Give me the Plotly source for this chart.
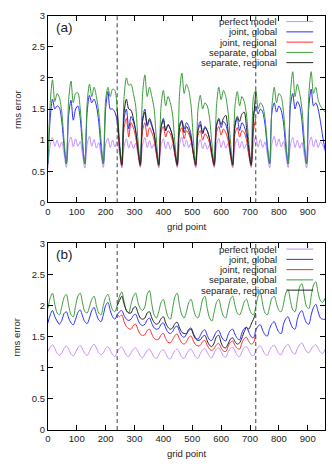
import plotly.graph_objects as go

grid = list(range(0, 961, 8))
grid_reg = list(range(240, 721, 8))
boundaries = [240, 720]

names = ["perfect model", "joint, global", "joint, regional",
         "separate, global", "separate, regional"]
colors = ["#c48cff", "#2b2bff", "#ff2b2b", "#3c9c3c", "#222222"]

# ---- panel (a)
a_perfect = [
    0.55, 0.92, 1.04, 0.90, 1.00, 0.88, 0.97, 0.78,
    0.56, 0.95, 1.05, 0.89, 1.02, 0.90, 0.98, 0.76,
    0.55, 0.93, 1.06, 0.90, 1.01, 0.87, 0.96, 0.77,
    0.56, 0.94, 1.03, 0.88, 1.00, 0.89, 0.98, 0.78,
    0.55, 0.90, 1.02, 0.87, 0.98, 0.86, 0.95, 0.76,
    0.56, 0.92, 1.04, 0.88, 0.99, 0.87, 0.94, 0.75,
    0.55, 0.91, 1.02, 0.86, 0.97, 0.85, 0.93, 0.75,
    0.56, 0.93, 1.05, 0.89, 1.00, 0.88, 0.96, 0.77,
    0.55, 0.90, 1.01, 0.86, 0.96, 0.85, 0.93, 0.74,
    0.56, 0.92, 1.03, 0.88, 0.99, 0.87, 0.95, 0.76,
    0.55, 0.91, 1.02, 0.87, 0.98, 0.86, 0.94, 0.75,
    0.56, 0.93, 1.05, 0.89, 1.01, 0.88, 0.97, 0.77,
    0.55, 0.94, 1.06, 0.90, 1.02, 0.89, 0.98, 0.78,
    0.56, 0.92, 1.04, 0.88, 1.00, 0.87, 0.96, 0.76,
    0.55, 0.93, 1.05, 0.89, 1.01, 0.88, 0.97, 0.92,
    0.82]
a_joint_g = [
    0.62, 1.35, 1.66, 1.50, 1.55, 1.52, 1.30, 0.90,
    0.62, 1.40, 1.64, 1.32, 1.50, 1.55, 1.35, 0.90,
    0.62, 1.45, 1.72, 1.60, 1.66, 1.55, 1.30, 0.88,
    0.62, 1.50, 1.78, 1.50, 1.50, 1.45, 1.30, 0.90,
    0.62, 1.35, 1.50, 1.18, 1.38, 1.30, 1.15, 0.85,
    0.62, 1.35, 1.50, 1.22, 1.32, 1.22, 1.10, 0.82,
    0.62, 1.22, 1.35, 1.15, 1.25, 1.18, 1.05, 0.80,
    0.62, 1.25, 1.32, 1.18, 1.28, 1.22, 1.08, 0.80,
    0.62, 1.20, 1.30, 1.12, 1.22, 1.15, 1.02, 0.78,
    0.62, 1.25, 1.32, 1.20, 1.30, 1.25, 1.10, 0.82,
    0.62, 1.22, 1.35, 1.15, 1.28, 1.22, 1.08, 0.80,
    0.62, 1.40, 1.55, 1.42, 1.50, 1.45, 1.25, 0.88,
    0.62, 1.45, 1.60, 1.45, 1.55, 1.48, 1.28, 0.88,
    0.62, 1.55, 1.75, 1.50, 1.62, 1.55, 1.30, 0.88,
    0.62, 1.55, 1.82, 1.55, 1.60, 1.50, 1.30, 1.05,
    0.85]
a_sep_g = [
    0.62, 1.60, 1.97, 1.62, 1.75, 1.68, 1.45, 1.00,
    0.62, 1.65, 1.95, 1.60, 1.75, 1.76, 1.50, 1.00,
    0.62, 1.60, 1.90, 1.70, 1.85, 1.70, 1.45, 1.00,
    0.62, 1.65, 1.85, 1.70, 1.82, 1.80, 1.50, 1.00,
    0.62, 1.70, 2.00, 1.88, 1.90, 1.75, 1.55, 1.00,
    0.62, 1.75, 2.05, 1.70, 1.85, 1.70, 1.50, 1.00,
    0.62, 1.55, 1.80, 1.55, 1.70, 1.60, 1.40, 0.95,
    0.62, 1.75, 2.08, 1.75, 1.90, 1.80, 1.55, 1.00,
    0.62, 1.50, 1.72, 1.50, 1.60, 1.55, 1.35, 0.95,
    0.62, 1.55, 1.85, 1.65, 1.80, 1.70, 1.45, 1.00,
    0.62, 1.55, 1.78, 1.55, 1.70, 1.62, 1.40, 0.95,
    0.62, 1.70, 1.80, 1.50, 1.60, 1.55, 1.35, 0.95,
    0.62, 1.55, 1.85, 1.60, 1.75, 1.70, 1.45, 1.00,
    0.62, 1.75, 2.10, 1.70, 1.90, 1.75, 1.50, 1.00,
    0.62, 1.75, 2.10, 1.75, 1.85, 1.65, 1.55, 1.50,
    1.45]
a_joint_r = [
    1.38, 0.88,
    0.58, 1.20, 1.35, 1.05, 1.28, 1.20, 1.05, 0.80,
    0.58, 1.15, 1.28, 1.05, 1.20, 1.12, 1.00, 0.78,
    0.58, 1.12, 1.22, 1.05, 1.15, 1.10, 0.98, 0.76,
    0.58, 1.12, 1.20, 1.02, 1.15, 1.10, 0.98, 0.76,
    0.58, 1.08, 1.15, 1.00, 1.10, 1.05, 0.95, 0.74,
    0.58, 1.12, 1.22, 1.08, 1.18, 1.12, 1.00, 0.76,
    0.58, 1.10, 1.20, 1.05, 1.15, 1.12, 1.00, 0.76,
    0.58, 1.15, 1.35]
a_sep_r = [
    1.50, 0.90,
    0.60, 1.45, 1.66, 1.50, 1.48, 1.35, 1.15, 0.85,
    0.60, 1.30, 1.45, 1.25, 1.35, 1.25, 1.10, 0.82,
    0.60, 1.20, 1.32, 1.15, 1.25, 1.18, 1.05, 0.80,
    0.60, 1.20, 1.30, 1.12, 1.22, 1.15, 1.02, 0.78,
    0.60, 1.15, 1.25, 1.10, 1.20, 1.15, 1.02, 0.78,
    0.60, 1.22, 1.35, 1.25, 1.35, 1.40, 1.15, 0.82,
    0.60, 1.25, 1.38, 1.30, 1.42, 1.45, 1.20, 0.85,
    0.60, 1.30, 1.78]

# ---- panel (b)
b_perfect = [
    1.26, 1.33, 1.37, 1.31, 1.23, 1.20,
    1.24, 1.31, 1.35, 1.30, 1.22, 1.19,
    1.25, 1.32, 1.36, 1.30, 1.23, 1.20,
    1.26, 1.34, 1.38, 1.32, 1.24, 1.21,
    1.24, 1.31, 1.34, 1.28, 1.21, 1.18,
    1.25, 1.31, 1.33, 1.27, 1.20, 1.18,
    1.24, 1.30, 1.32, 1.26, 1.19, 1.16,
    1.22, 1.28, 1.30, 1.24, 1.17, 1.15,
    1.21, 1.27, 1.29, 1.23, 1.16, 1.14,
    1.21, 1.27, 1.30, 1.24, 1.17, 1.15,
    1.22, 1.28, 1.30, 1.24, 1.17, 1.15,
    1.23, 1.29, 1.31, 1.25, 1.18, 1.16,
    1.24, 1.30, 1.32, 1.26, 1.19, 1.17,
    1.25, 1.31, 1.33, 1.27, 1.20, 1.18,
    1.26, 1.32, 1.34, 1.28, 1.21, 1.19,
    1.27, 1.33, 1.35, 1.29, 1.22, 1.20,
    1.28, 1.34, 1.36, 1.30, 1.23, 1.21,
    1.29, 1.35, 1.38, 1.31, 1.24, 1.22,
    1.31, 1.37, 1.40, 1.33, 1.26, 1.24,
    1.30, 1.35, 1.37, 1.31, 1.25, 1.23,
    1.30]
b_joint_g = [
    1.72, 1.85, 1.92, 1.82, 1.75, 1.70,
    1.76, 1.87, 1.90, 1.80, 1.72, 1.69,
    1.78, 1.89, 1.93, 1.83, 1.74, 1.71,
    1.80, 1.92, 1.97, 1.86, 1.77, 1.74,
    1.85, 2.00, 2.05, 1.92, 1.82, 1.78,
    1.85, 1.90, 1.92, 1.84, 1.78, 1.76,
    1.78, 1.84, 1.86, 1.77, 1.70, 1.68,
    1.70, 1.77, 1.80, 1.71, 1.64, 1.62,
    1.63, 1.70, 1.72, 1.64, 1.57, 1.55,
    1.58, 1.65, 1.67, 1.58, 1.51, 1.49,
    1.54, 1.62, 1.64, 1.55, 1.48, 1.46,
    1.52, 1.59, 1.61, 1.52, 1.45, 1.44,
    1.51, 1.58, 1.60, 1.51, 1.45, 1.43,
    1.53, 1.60, 1.62, 1.54, 1.47, 1.45,
    1.56, 1.63, 1.65, 1.57, 1.50, 1.48,
    1.60, 1.67, 1.69, 1.60, 1.53, 1.51,
    1.63, 1.71, 1.74, 1.65, 1.57, 1.55,
    1.70, 1.79, 1.82, 1.72, 1.64, 1.62,
    1.78, 1.88, 1.92, 1.81, 1.72, 1.70,
    1.85, 1.97, 2.02, 1.90, 1.80, 1.78,
    1.78]
b_sep_g = [
    1.95, 2.12, 2.20, 2.02, 1.88, 1.85,
    1.98, 2.13, 2.18, 2.00, 1.85, 1.82,
    2.00, 2.15, 2.20, 2.04, 1.90, 1.88,
    1.98, 2.10, 2.15, 2.00, 1.88, 1.85,
    2.00, 2.13, 2.18, 2.05, 1.93, 1.90,
    2.00, 2.15, 2.22, 2.06, 1.92, 1.88,
    2.02, 2.15, 2.20, 2.05, 1.95, 1.92,
    1.98, 2.18, 2.24, 2.02, 1.85, 1.80,
    1.90, 2.05, 2.10, 1.95, 1.82, 1.78,
    1.95, 2.14, 2.20, 2.00, 1.85, 1.80,
    1.90, 2.05, 2.10, 1.95, 1.83, 1.80,
    1.92, 2.10, 2.15, 1.95, 1.80, 1.75,
    1.90, 2.05, 2.10, 1.95, 1.83, 1.80,
    1.95, 2.10, 2.15, 2.00, 1.88, 1.85,
    1.93, 2.06, 2.10, 1.98, 1.88, 1.85,
    1.98, 2.15, 2.20, 2.02, 1.88, 1.85,
    1.98, 2.12, 2.15, 2.03, 1.92, 1.90,
    2.02, 2.20, 2.25, 2.08, 1.93, 1.90,
    2.10, 2.30, 2.35, 2.15, 1.98, 1.95,
    2.15, 2.33, 2.38, 2.20, 2.08, 2.05,
    2.12]
b_joint_r = [
    1.86, 1.82, 1.85, 1.74, 1.66, 1.63,
    1.62, 1.68, 1.70, 1.61, 1.54, 1.52,
    1.53, 1.60, 1.62, 1.54, 1.47, 1.45,
    1.46, 1.53, 1.55, 1.47, 1.41, 1.40,
    1.45, 1.52, 1.54, 1.46, 1.40, 1.38,
    1.42, 1.49, 1.51, 1.43, 1.37, 1.35,
    1.36, 1.42, 1.44, 1.36, 1.30, 1.28,
    1.31, 1.37, 1.39, 1.32, 1.27, 1.26,
    1.34, 1.41, 1.43, 1.36, 1.31, 1.30,
    1.40, 1.47, 1.49, 1.42, 1.38, 1.40,
    1.55]
b_sep_r = [
    2.00, 2.08, 2.15, 2.02, 1.92, 1.88,
    1.88, 1.96, 1.98, 1.88, 1.80, 1.78,
    1.80, 1.88, 1.90, 1.80, 1.73, 1.70,
    1.72, 1.79, 1.82, 1.72, 1.65, 1.62,
    1.64, 1.71, 1.73, 1.64, 1.57, 1.55,
    1.55, 1.60, 1.62, 1.53, 1.46, 1.44,
    1.45, 1.50, 1.52, 1.43, 1.36, 1.34,
    1.40, 1.50, 1.52, 1.40, 1.33, 1.32,
    1.38, 1.46, 1.48, 1.42, 1.38, 1.40,
    1.48, 1.58, 1.65, 1.62, 1.70, 1.78,
    1.88]

yticks = [0, 0.5, 1, 1.5, 2, 2.5, 3]
xticks = [0, 100, 200, 300, 400, 500, 600, 700, 800, 900]

W, H = 332, 466
FONT = "Liberation Sans, Arial, sans-serif"
TXT = "#222222"

fig = go.Figure()

panels = [
    ("x", "y", [a_perfect, a_joint_g, a_joint_r, a_sep_g, a_sep_r], "(a)", 10, 201),
    ("x2", "y2", [b_perfect, b_joint_g, b_joint_r, b_sep_g, b_sep_r], "(b)", 243, 434.3),
]

for xa, ya, series, label, top, bot in panels:
    for i, vals in enumerate(series):
        xs = grid_reg if i in (2, 4) else grid
        fig.add_trace(go.Scatter(
            x=xs, y=vals, xaxis=xa, yaxis=ya, mode="lines",
            line=dict(color=colors[i], width=1, shape="spline", smoothing=0.8),
            name=names[i], showlegend=False, hoverinfo="skip",
        ))
    for b in boundaries:
        fig.add_shape(type="line", xref=xa, yref=ya, x0=b, x1=b, y0=0, y1=3,
                      line=dict(color="#444444", width=1, dash="4px,3px"))
    # panel label
    fig.add_annotation(text=label, xref="paper", yref="paper",
                       x=51 / W, y=1 - (top + 12) / H, xanchor="left", yanchor="middle",
                       showarrow=False, font=dict(size=13.5, color=TXT, family=FONT))
    # axis titles
    fig.add_annotation(text="rms error", xref="paper", yref="paper",
                       x=14 / W, y=1 - (top + bot) / 2 / H, textangle=-90,
                       xanchor="center", yanchor="middle", showarrow=False,
                       font=dict(size=9.5, color=TXT, family=FONT))
    fig.add_annotation(text="grid point", xref="paper", yref="paper",
                       x=185 / W, y=1 - (bot + 24.5) / H,
                       xanchor="center", yanchor="middle", showarrow=False,
                       font=dict(size=9.5, color=TXT, family=FONT))
    # gnuplot style key: text right aligned, sample on the right
    for i, name in enumerate(names):
        ry = top + 6 + i * 10.5
        fig.add_annotation(text=name, xref="paper", yref="paper",
                           x=279 / W, y=1 - ry / H, xanchor="right", yanchor="middle",
                           showarrow=False, font=dict(size=9.5, color=TXT, family=FONT))
        fig.add_shape(type="line", xref="paper", yref="paper",
                      x0=286 / W, x1=313 / W, y0=1 - ry / H, y1=1 - ry / H,
                      line=dict(color=colors[i], width=1))

axis_common = dict(
    range=[0, 960], tickvals=xticks, ticks="inside", ticklen=5,
    showline=True, mirror="ticks", linecolor="black", linewidth=1,
    tickcolor="black", showgrid=False, zeroline=False,
    tickfont=dict(size=9.5, color=TXT, family=FONT),
)
yaxis_common = dict(
    range=[0, 3], tickvals=yticks, ticks="inside", ticklen=5,
    showline=True, mirror="ticks", linecolor="black", linewidth=1,
    tickcolor="black", showgrid=False, zeroline=False,
    tickfont=dict(size=9.5, color=TXT, family=FONT),
)

fig.update_layout(
    width=W, height=H,
    margin=dict(l=0, r=0, t=0, b=0),
    paper_bgcolor="white", plot_bgcolor="white",
    showlegend=False,
    xaxis=dict(axis_common, domain=[45.3 / W, 325 / W], anchor="y"),
    yaxis=dict(yaxis_common, domain=[1 - 201 / H, 1 - 10 / H], anchor="x"),
    xaxis2=dict(axis_common, domain=[45.3 / W, 325 / W], anchor="y2"),
    yaxis2=dict(yaxis_common, domain=[1 - 434.3 / H, 1 - 243 / H], anchor="x2"),
)

fig.write_html("out.html", config={"displayModeBar": False},
               post_script="document.body.style.margin='0';")
